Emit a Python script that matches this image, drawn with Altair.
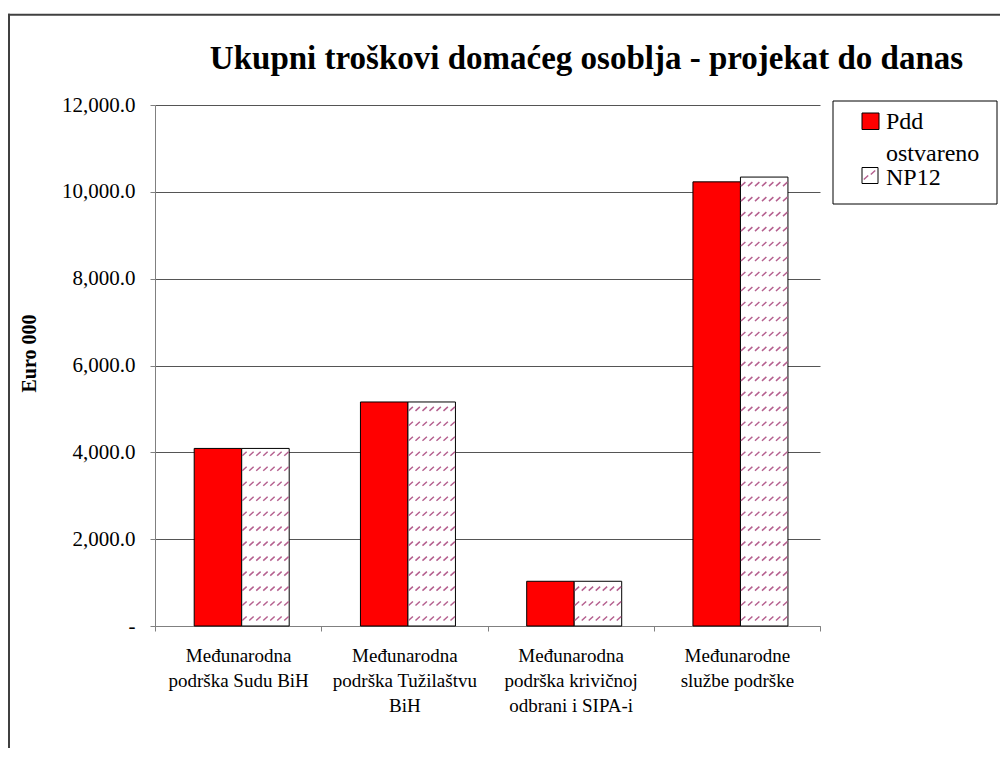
import altair as alt
import pandas as pd

# ---- data ----
categories = [
    "Međunarodna|podrška Sudu BiH",
    "Međunarodna|podrška Tužilaštvu|BiH",
    "Međunarodna|podrška krivičnoj|odbrani i SIPA-i",
    "Međunarodne|službe podrške",
]
series = ["Pdd ostvareno", "NP12"]
pdd_values = [4090, 5160, 1030, 10230]
np12_values = [4090, 5160, 1030, 10340]
y_ticks = [0, 2000, 4000, 6000, 8000, 10000, 12000]
title_text = "Ukupni troškovi domaćeg osoblja - projekat do danas"
y_title = "Euro 000"

rows = []
for c, a, b in zip(categories, pdd_values, np12_values):
    rows.append({"category": c, "series": series[0], "value": a})
    rows.append({"category": c, "series": series[1], "value": b})
df = pd.DataFrame(rows)
series_df = pd.DataFrame({"series": series})
title_df = pd.DataFrame({"t": [title_text]})

FONT = "Liberation Serif, Times New Roman, Times, serif"
W, H = 665, 521
PAD = {"left": 147, "top": 97, "right": 180, "bottom": 122}
HATCH = "#B5608F"

# hatch pattern glyph: a row of short rising dashes (pixel units at size=4)
hatch_row = "".join(
    f"M{c - 2.2:.1f},2L{c + 2.2:.1f},-2" for c in [-21, -14, -7, 0, 7, 14, 21]
)
hatch_small = "".join(
    f"M{c - 2.2:.1f},{d + 2}L{c + 2.2:.1f},{d - 2}" for c, d in [(-4, 2), (3, -3)]
)

x_enc = alt.X(
    "category:N",
    sort=categories,
    scale=alt.Scale(domain=categories, paddingInner=0, paddingOuter=0),
    axis=alt.Axis(
        title=None,
        labelAngle=0,
        tickBand="extent",
        labelExpr="split(datum.label, '|')",
        labelFont=FONT,
        labelFontSize=19,
        labelLineHeight=25,
        labelColor="black",
        labelPadding=15,
        labelLimit=300,
        tickSize=5,
        tickColor="#808080",
        domainColor="#808080",
        grid=False,
    ),
)
xo_enc = alt.XOffset(
    "series:N",
    sort=series,
    scale=alt.Scale(domain=series, paddingInner=0, paddingOuter=0.75, align=0.55),
)
y_scale = alt.Scale(domain=[0, 12000], nice=False, zero=True)
y_axis = alt.Axis(
    values=y_ticks,
    labelExpr="datum.value == 0 ? '-' : format(datum.value, ',.1f')",
    labelFont=FONT,
    labelFontSize=21,
    labelColor="black",
    labelPadding=15,
    tickSize=5,
    tickColor="#808080",
    domainColor="#808080",
    grid=True,
    gridColor="#555555",
    gridWidth=1,
    title=y_title,
    titleFont=FONT,
    titleFontSize=20,
    titleFontWeight="bold",
    titleColor="black",
    titleAngle=-90,
    titleX=-126,
    titleY=248,
    titleAlign="center",
    titleBaseline="middle",
)

bars = alt.Chart(df).mark_bar(stroke="black", strokeWidth=1).encode(
    x=x_enc,
    xOffset=xo_enc,
    y=alt.Y("value:Q", scale=y_scale, axis=y_axis),
    fill=alt.Fill(
        "series:N",
        scale=alt.Scale(domain=series, range=["#FF0000", "#FFFFFF"]),
        legend=None,
    ),
)

hatch = (
    alt.Chart(df)
    .transform_filter(alt.datum.series == series[1])
    .transform_calculate(row="sequence(172, datum.value - 80, 345)")
    .transform_flatten(["row"])
    .mark_point(
        shape=hatch_row, size=4, filled=False, stroke=HATCH, strokeWidth=1.5, opacity=1
    )
    .encode(
        x=x_enc,
        xOffset=xo_enc,
        y=alt.Y("row:Q", scale=y_scale, axis=y_axis),
    )
)

# outer frame (top and left edges; the others lie outside the picture)
right_edge = W + PAD["right"]
bottom_edge = H + PAD["bottom"]
frame_top = (
    alt.Chart(title_df)
    .mark_rule(color="#404040", strokeWidth=2)
    .encode(x=alt.value(-147), x2=alt.value(right_edge), y=alt.value(-90.3))
)
frame_left = (
    alt.Chart(title_df)
    .mark_rule(color="#404040", strokeWidth=2)
    .encode(x=alt.value(-146), y=alt.value(-91.3), y2=alt.value(bottom_edge))
)

title = (
    alt.Chart(title_df)
    .mark_text(
        font=FONT, fontSize=33, fontWeight="bold", color="black",
        align="center", baseline="alphabetic",
    )
    .encode(x=alt.value(431.5), y=alt.value(-35.7), text="t:N")
)

# manual legend
legend_box = (
    alt.Chart(title_df)
    .mark_rect(fill="white", stroke="black", strokeWidth=1)
    .encode(x=alt.value(678), x2=alt.value(842), y=alt.value(-4), y2=alt.value(99))
)
leg_red = (
    alt.Chart(series_df)
    .transform_filter(alt.datum.series == series[0])
    .mark_rect(fill="#FF0000", stroke="black", strokeWidth=1)
    .encode(x=alt.value(707), x2=alt.value(724), y=alt.value(8), y2=alt.value(24.5))
)
leg_red_txt = (
    alt.Chart(series_df)
    .transform_filter(alt.datum.series == series[0])
    .mark_text(font=FONT, fontSize=24, color="black", align="left",
               baseline="alphabetic", lineBreak=" ", lineHeight=32)
    .encode(x=alt.value(731), y=alt.value(24), text="series:N")
)
leg_np = (
    alt.Chart(series_df)
    .transform_filter(alt.datum.series == series[1])
    .mark_rect(fill="white", stroke="black", strokeWidth=1)
    .encode(x=alt.value(707), x2=alt.value(723), y=alt.value(62.5), y2=alt.value(78.5))
)
leg_np_hatch = (
    alt.Chart(series_df)
    .transform_filter(alt.datum.series == series[1])
    .mark_point(shape=hatch_small, size=4, filled=False, stroke=HATCH,
                strokeWidth=1.5, opacity=1)
    .encode(x=alt.value(715), y=alt.value(70.5))
)
leg_np_txt = (
    alt.Chart(series_df)
    .transform_filter(alt.datum.series == series[1])
    .mark_text(font=FONT, fontSize=24, color="black", align="left", baseline="alphabetic")
    .encode(x=alt.value(731), y=alt.value(80), text="series:N")
)

chart = (
    alt.layer(
        frame_top, frame_left, bars, hatch, title, legend_box, leg_red, leg_red_txt,
        leg_np, leg_np_hatch, leg_np_txt,
    )
    .properties(
        width=W,
        height=H,
        padding=PAD,
        autosize=alt.AutoSizeParams(type="none"),
        background="white",
    )
    .configure_view(stroke=None)
)

chart.save("out.html", embed_options={"renderer": "svg", "actions": False})
